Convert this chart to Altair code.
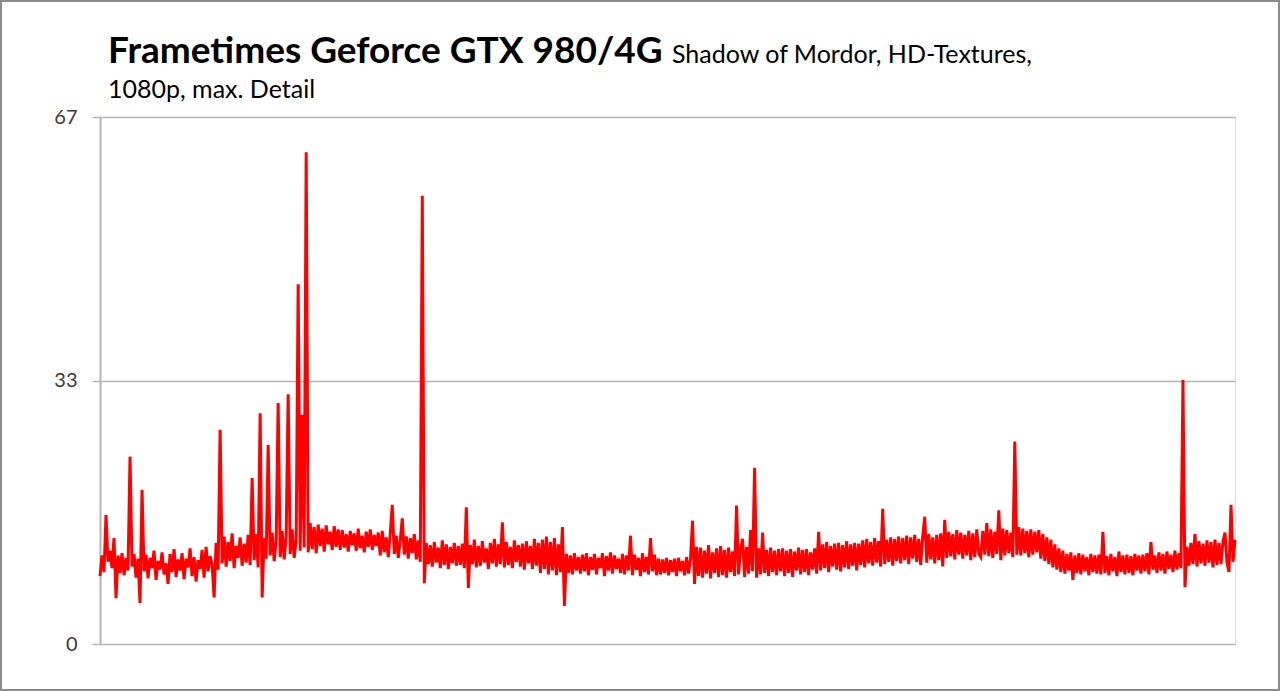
import altair as alt
import pandas as pd

title_text = "Frametimes Geforce GTX 980/4G"
subtitle_inline = "Shadow of Mordor, HD-Textures,"
subtitle_line2 = "1080p, max. Detail"

y_ticks = [0, 100 / 3, 200 / 3]

frametimes = [
    8.6, 11.2, 9.1, 16.3, 10.4, 11.8, 9.6, 13.4, 5.8, 11.2, 9.0, 11.5, 8.7, 10.9, 9.3, 23.7, 9.8, 11.4, 8.4, 10.8,
    5.2, 19.5, 9.2, 11.3, 8.3, 10.9, 9.6, 11.8, 8.1, 10.5, 9.4, 11.6, 8.8, 10.2, 7.6, 11.4, 9.1, 12.0, 8.5, 10.7,
    9.3, 11.5, 8.2, 10.8, 9.7, 12.1, 8.6, 11.0, 7.9, 10.6, 9.5, 11.9, 8.4, 12.3, 9.2, 11.1, 10.0, 5.9, 12.8, 9.4,
    27.1, 10.2, 13.6, 9.8, 12.9, 10.5, 14.0, 9.6, 12.4, 10.9, 13.5, 9.9, 12.7, 10.3, 13.8, 10.0, 21.0, 10.6, 13.9, 9.7,
    29.2, 5.9, 13.4, 10.8, 25.2, 11.2, 14.1, 10.5, 13.0, 30.5, 11.0, 14.3, 10.7, 13.6, 31.6, 11.4, 14.5, 10.9, 13.2, 45.5,
    11.8, 29.0, 12.2, 62.2, 11.6, 15.3, 12.0, 14.8, 11.5, 15.1, 12.4, 14.6, 11.7, 15.0, 12.6, 14.2, 11.9, 14.9, 12.3, 14.5,
    11.9, 14.4, 12.2, 13.9, 11.7, 14.3, 12.5, 14.0, 11.8, 14.6, 12.1, 13.7, 11.6, 14.2, 12.3, 14.5, 11.9, 13.8, 12.4, 14.1,
    11.2, 14.3, 11.6, 13.5, 11.0, 14.0, 17.6, 11.4, 13.7, 10.9, 13.2, 15.9, 11.3, 13.6, 10.8, 13.4, 11.5, 13.9, 10.7, 13.1,
    10.4, 56.7, 7.7, 12.8, 10.1, 12.5, 9.8, 12.9, 10.3, 12.2, 9.6, 13.1, 10.0, 12.6, 9.5, 12.3, 10.2, 12.8, 9.9, 12.4,
    10.0, 12.7, 9.6, 17.3, 7.1, 12.5, 10.1, 13.2, 9.7, 12.4, 9.9, 13.0, 10.3, 12.1, 9.5, 12.8, 10.2, 13.3, 9.8, 12.6,
    10.1, 15.4, 9.7, 12.9, 10.0, 12.3, 9.6, 13.1, 10.4, 12.5, 9.8, 12.7, 9.4, 13.0, 10.2, 12.4, 9.5, 13.3, 9.9, 12.8,
    9.0, 13.2, 9.5, 13.6, 8.8, 12.9, 9.3, 13.4, 8.7, 12.6, 9.1, 14.8, 4.8, 11.4, 9.0, 11.2, 8.8, 11.5, 9.3, 11.0,
    8.9, 11.3, 9.2, 11.5, 8.7, 11.0, 9.4, 11.4, 8.8, 10.9, 9.6, 11.5, 8.6, 11.1, 9.3, 11.6, 8.9, 11.2, 9.5, 10.8,
    9.0, 11.4, 8.8, 11.2, 9.3, 13.7, 8.7, 11.3, 9.4, 10.9, 8.6, 11.5, 9.1, 11.0, 8.8, 13.4, 9.2, 11.3, 8.7, 10.8,
    8.8, 10.7, 9.0, 10.9, 8.7, 10.6, 9.1, 10.8, 8.6, 10.9, 9.2, 10.5, 8.7, 11.0, 8.9, 10.8, 15.6, 7.6, 12.3, 8.6,
    12.2, 8.4, 11.8, 8.9, 12.5, 8.3, 11.6, 9.0, 12.1, 8.5, 12.4, 8.7, 11.9, 8.4, 12.2, 9.1, 11.7, 8.6, 17.5, 8.8,
    12.0, 13.3, 8.5, 12.3, 8.9, 14.4, 9.2, 22.3, 8.4, 12.1, 8.8, 14.1, 9.0, 11.9, 8.6, 12.2, 9.1, 11.8, 8.7, 12.0,
    9.2, 12.1, 8.6, 11.8, 9.0, 12.0, 8.5, 11.7, 9.3, 12.2, 8.8, 11.9, 9.1, 12.0, 8.7, 11.6, 9.4, 12.1, 8.9, 14.2,
    9.3, 12.6, 9.6, 12.9, 9.1, 12.4, 9.8, 12.7, 9.4, 12.8, 9.2, 12.5, 9.7, 13.0, 9.5, 12.6, 9.9, 12.8, 9.3, 12.7,
    10.0, 13.1, 9.7, 13.3, 10.2, 12.9, 9.9, 13.4, 10.3, 13.0, 9.8, 17.1, 10.1, 13.2, 10.4, 13.5, 9.9, 13.3, 10.5, 13.6,
    10.2, 13.4, 10.6, 13.7, 10.1, 13.5, 10.8, 13.8, 10.4, 13.3, 10.0, 13.6, 16.1, 10.3, 13.9, 10.7, 13.5, 10.2, 13.8, 10.6,
    14.0, 9.8, 15.7, 10.9, 14.2, 11.1, 13.9, 10.7, 14.4, 11.3, 14.1, 10.8, 13.8, 11.2, 14.3, 10.6, 14.0, 11.0, 14.5, 11.4,
    11.0, 14.3, 11.3, 15.3, 11.1, 14.5, 10.9, 14.2, 11.4, 16.9, 10.6, 14.6, 11.2, 14.4, 11.5, 14.1, 11.0, 25.6, 11.3, 14.8,
    11.2, 14.6, 11.5, 14.3, 11.0, 14.5, 11.3, 14.2, 11.6, 14.4, 10.8, 13.9, 10.5, 13.5, 10.1, 13.2, 9.7, 12.6, 9.4, 12.1,
    9.1, 11.8, 8.9, 11.4, 9.3, 11.6, 8.1, 11.2, 9.0, 11.5, 8.8, 11.3, 9.2, 11.0, 8.7, 11.4, 9.1, 11.2, 8.9, 11.3,
    8.8, 14.2, 9.0, 11.1, 8.7, 11.4, 9.2, 11.0, 8.6, 11.7, 9.1, 11.2, 8.8, 11.3, 9.0, 11.1, 8.7, 11.4, 9.3, 11.2,
    8.9, 11.3, 9.2, 11.5, 8.8, 12.9, 9.4, 11.2, 9.0, 11.6, 9.3, 11.4, 8.9, 11.7, 9.5, 11.3, 9.1, 11.8, 9.4, 11.5,
    9.6, 33.4, 7.2, 12.3, 9.9, 12.8, 10.1, 13.9, 9.8, 13.0, 10.2, 12.7, 9.9, 13.1, 10.3, 12.9, 9.7, 13.2, 10.0, 12.8,
    10.1, 13.0, 14.1, 10.3, 9.1, 17.6, 10.4, 13.2,
]
frames = list(range(len(frametimes)))

df = pd.DataFrame({"frame": frames, "ms": frametimes})

FONT = "Lato"
GRAY = "#b4b4b4"

line = alt.Chart(df).mark_line(color="#ff0000", strokeWidth=3, strokeJoin="miter").encode(
    x=alt.X("frame:Q", axis=None, scale=alt.Scale(domain=[0, len(frametimes) - 1], nice=False, zero=False)),
    y=alt.Y(
        "ms:Q",
        title=None,
        scale=alt.Scale(domain=[0, 200 / 3], nice=False),
        axis=alt.Axis(
            values=y_ticks,
            format=".0f",
            grid=True,
            gridColor=GRAY,
            gridWidth=1.5,
            domain=True,
            domainColor=GRAY,
            domainWidth=2,
            tickColor=GRAY,
            tickSize=8,
            tickWidth=1.5,
            labelPadding=15,
            labelFont=FONT,
            labelFontSize=20,
            labelColor="#3a3a3a",
        ),
    ),
)

title_mark = alt.Chart(alt.Data(values=[{"t": title_text}])).mark_text(
    font=FONT, fontSize=37, fontWeight="bold", align="left", baseline="alphabetic", color="#000000"
).encode(text="t:N", x=alt.value(8), y=alt.value(-54))

inline = alt.Chart(alt.Data(values=[{"t": subtitle_inline}])).mark_text(
    font=FONT, fontSize=25, align="left", baseline="alphabetic", color="#000000"
).encode(text="t:N", x=alt.value(572), y=alt.value(-54))

line2 = alt.Chart(alt.Data(values=[{"t": subtitle_line2}])).mark_text(
    font=FONT, fontSize=25, align="left", baseline="alphabetic", color="#000000"
).encode(text="t:N", x=alt.value(8), y=alt.value(-19))

frame_box = alt.Chart(alt.Data(values=[{}])).mark_rect(
    filled=False, stroke="#8c8c8c", strokeWidth=2
).encode(x=alt.value(-99), x2=alt.value(1179), y=alt.value(-116), y2=alt.value(573))

chart = alt.layer(line, title_mark, inline, line2, frame_box).properties(
    width=1135,
    height=527,
    autosize=alt.AutoSizeParams(type="none"),
    padding={"left": 100, "top": 117, "right": 45, "bottom": 47},
).configure_view(stroke=GRAY, strokeWidth=2).configure(background="#ffffff")

chart.save("out.html", embed_options={"renderer": "svg", "actions": False})
